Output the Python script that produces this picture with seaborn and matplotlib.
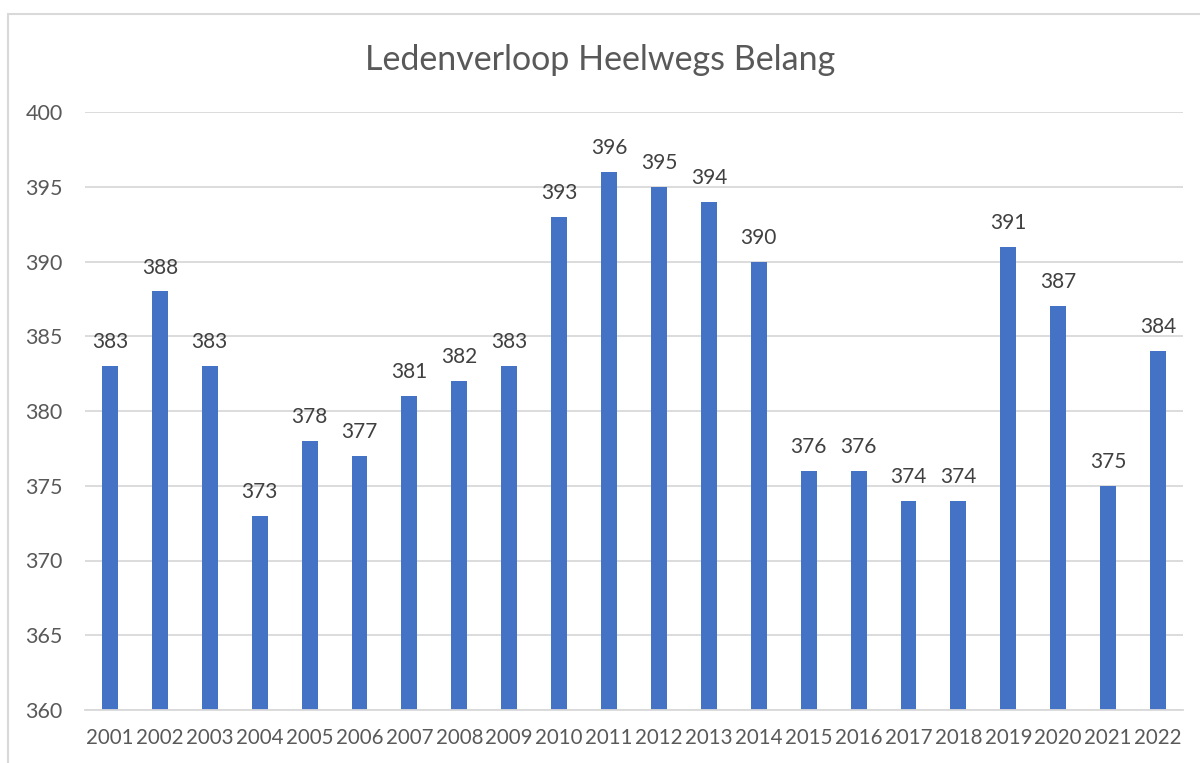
import matplotlib
matplotlib.use("Agg")
import matplotlib.pyplot as plt
import seaborn as sns
import pandas as pd
from matplotlib.patches import Rectangle

years = ["2001", "2002", "2003", "2004", "2005", "2006", "2007", "2008", "2009", "2010", "2011",
         "2012", "2013", "2014", "2015", "2016", "2017", "2018", "2019", "2020", "2021", "2022"]
members = [383, 388, 383, 373, 378, 377, 381, 382, 383, 393, 396,
           395, 394, 390, 376, 376, 374, 374, 391, 387, 375, 384]
y_ticks = [360, 365, 370, 375, 380, 385, 390, 395, 400]
title = "Ledenverloop Heelwegs Belang"

sns.set_theme(style="white")
plt.rcParams['font.family'] = ['Lato', 'DejaVu Sans']

df = pd.DataFrame({"year": years, "members": members})

fig = plt.figure(figsize=(12, 7.63), dpi=100)
ax = fig.add_axes([85/1200, 1-710/763, (1183-85)/1200, (710-112)/763])

ax.set_axisbelow(True)
ax.yaxis.grid(True, color="#D9D9D9", linewidth=1.3)
sns.barplot(data=df, x="year", y="members", color="#4472C4", saturation=1,
            width=0.32, ax=ax, linewidth=0)

ax.set_ylim(360, 400)
ax.set_yticks(y_ticks)
ax.set_xlim(-0.5, len(years) - 0.5)

for i, v in enumerate(members):
    ax.annotate(str(v), (i, v), xytext=(0, 10), textcoords="offset points",
                ha="center", va="bottom", fontsize=15, color="#404040")

for s in ["top", "right", "left"]:
    ax.spines[s].set_visible(False)
ax.spines["bottom"].set_color("#D9D9D9")
ax.spines["bottom"].set_linewidth(1.3)

ax.set_xlabel("")
ax.set_ylabel("")
ax.tick_params(axis="both", length=0, labelcolor="#595959")
ax.tick_params(axis="x", pad=13, labelsize=14.8)
ax.tick_params(axis="y", pad=16, labelsize=15.5)

fig.text(0.5, 1-60/763, title, ha="center", va="center", fontsize=24.5, color="#595959")

fig.patches.append(Rectangle((8/1200, -0.5), 1.5, 1.5 - 14/763,
                             transform=fig.transFigure, fill=False,
                             edgecolor="#D9D9D9", linewidth=1.5))

fig.savefig("out.png", dpi=100)
